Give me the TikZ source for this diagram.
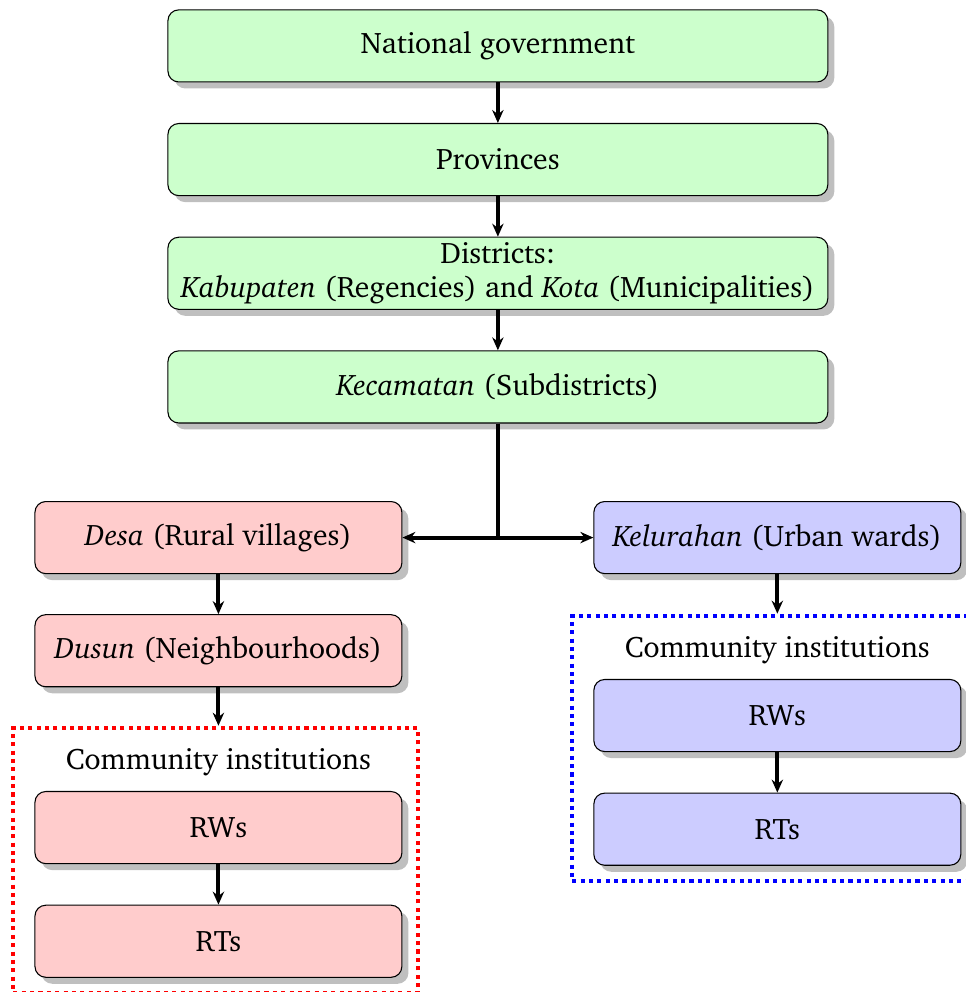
\documentclass[tikz,border=0pt]{standalone}
\usepackage[T1]{fontenc}
\usepackage{charter}
\usepackage{tikz}
\usetikzlibrary{positioning}
\usetikzlibrary{shadows}
\usetikzlibrary{arrows.meta}
\usetikzlibrary{calc}
\usetikzlibrary{fit}
\tikzstyle{block} = [rectangle, draw, rounded corners, text centered, align=center, minimum height=26.7pt, inner ysep=0pt, drop shadow]
\tikzstyle{level} = [block, fill=green!20, minimum width=244.4pt]
\tikzstyle{rural} = [block, fill=red!20, minimum width=135.9pt]
\tikzstyle{urban} = [block, fill=blue!20, minimum width=135.9pt]
\tikzstyle{line} = [draw, line width=1.5pt, -{Stealth[length=4.8pt,width=4.2pt]}]
\tikzstyle{group} = [draw, line width=1.5pt, dash pattern=on 1.5pt off 1.6pt, inner sep=0pt]
\tikzstyle{title} = [inner sep=0pt]

\begin{document}
\begin{tikzpicture}[node distance=15pt, font=\fontsize{11}{12.6}\selectfont]
            \useasboundingbox (-184.4pt,17pt) rectangle (173.3pt,-350.4pt);
            % Place nodes
            \node [level] (nat) at (0,0) {National government};
            \node [level, below=of nat] (prov) {Provinces};
            \node [level, below=of prov, inner ysep=-0.4pt] (dist) {Districts:\\\emph{Kabupaten} (Regencies) and \emph{Kota} (Municipalities)};
            \node [level, below=of dist] (kec) {\emph{Kecamatan} (Subdistricts)};
            \node [rural, below=28.7pt of kec, xshift=-103.5pt] (desa) {\emph{Desa} (Rural villages)};
            \node [urban, below=28.7pt of kec, xshift=103.5pt] (kel) {\emph{Kelurahan} (Urban wards)};
            \node [rural, below=14.8pt of desa] (dusun) {\emph{Dusun} (Neighbourhoods)};
            \node [rural, below=38.4pt of dusun] (rwA) {RWs};
            \node [title, above=5.5pt of rwA] (insA) {Community institutions};
            \node [rural, below=of rwA] (rtA) {RTs};
            \node [urban, below=38.8pt of kel] (rwB) {RWs};
            \node [title, above=5.5pt of rwB] (insB) {Community institutions};
            \node [urban, below=of rwB] (rtB) {RTs};
            % Dotted frames
            \coordinate (aTL) at ($(rwA.west |- insA.north)+(-7.8pt,7.4pt)$);
            \coordinate (aBR) at ($(rtA.south east)+(5.6pt,-5.6pt)$);
            \node [group, red, fit=(aTL)(aBR)] (frameA) {};
            \coordinate (bTL) at ($(rwB.west |- insB.north)+(-7.8pt,7.4pt)$);
            \coordinate (bBR) at ($(rtB.south east)+(5.6pt,-5.6pt)$);
            \node [group, blue, fit=(bTL)(bBR)] (frameB) {};
            % Draw edges
            \path [line] (nat) -- (prov);
            \path [line] (prov) -- (dist);
            \path [line] (dist) -- (kec);
            \path [line] (kec) |- (desa);
            \path [line] (kec) |- (kel);
            \path [line] (desa) -- (dusun);
            \path [line] (dusun) -- (dusun.south |- frameA.north);
            \path [line] (rwA) -- (rtA);
            \path [line] (kel) -- (kel.south |- frameB.north);
            \path [line] (rwB) -- (rtB);
\end{tikzpicture}
\end{document}
